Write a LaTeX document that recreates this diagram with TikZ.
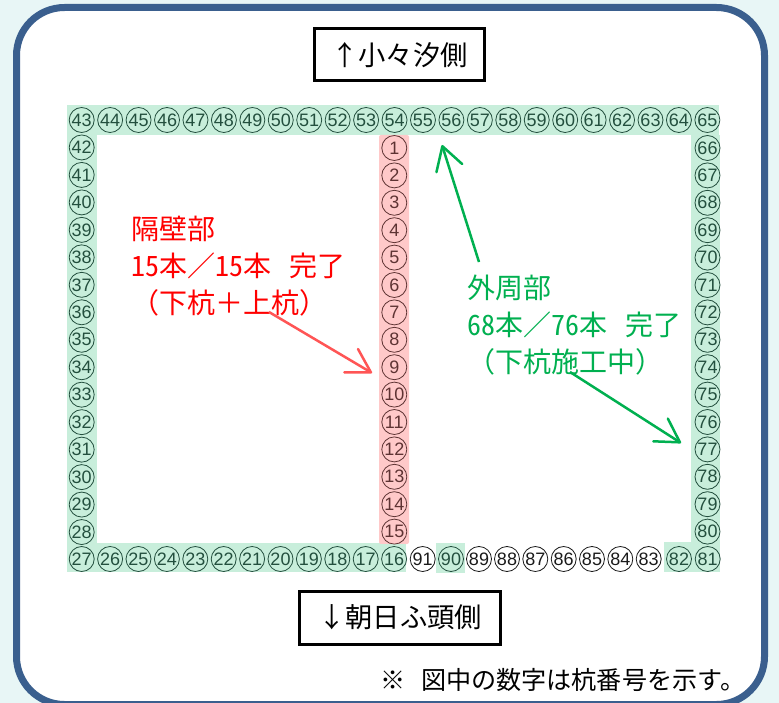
\documentclass[tikz,border=0pt]{standalone}
\usepackage{fontspec}
\usetikzlibrary{arrows.meta}
\setmainfont{Liberation Sans}
\newfontfamily\cjk{Noto Sans CJK JP}
\newfontfamily\cjkhalf[RawFeature=+hwid]{Noto Sans CJK JP}
\newcommand{\hw}[1]{{\cjkhalf #1}}
\definecolor{pagebg}{HTML}{E8F6F6}
\definecolor{framecol}{HTML}{3A5F8E}
\definecolor{bandgreen}{HTML}{C8EEDB}
\definecolor{bandpink}{HTML}{FFC9C9}
\definecolor{inkgreen}{HTML}{234F3E}
\definecolor{inkpink}{HTML}{5E3333}
\definecolor{inkwhite}{HTML}{1A1A1A}
\definecolor{labelgreen}{HTML}{00B050}
\definecolor{labelred}{HTML}{FF0000}
\definecolor{arrowred}{HTML}{FF5555}
\tikzset{
  x=1pt,y=-1pt,
  pile/.style={circle,draw=inkgreen,text=inkgreen,line width=0.8pt,minimum size=25pt,inner sep=0pt,font=\fontsize{18}{18}\selectfont},
  pilepink/.style={pile,draw=inkpink,text=inkpink},
  pileplain/.style={pile,draw=inkwhite,text=inkwhite},
  titlebox/.style={draw=black,line width=3pt,fill=white,inner sep=0pt,font=\cjk\fontsize{27.3}{30}\selectfont},
  biglabel/.style={anchor=north west,inner sep=0pt,align=left,font=\cjk\fontsize{28}{37.2}\selectfont},
  notelabel/.style={anchor=west,inner sep=0pt,font=\cjk\fontsize{25.1}{28}\selectfont},
  callout/.style={line width=2.5pt,-{Straight Barb[length=23pt,width=27pt,line width=2.5pt,round]}},
}
\begin{document}
\begin{tikzpicture}
\useasboundingbox (0,0) rectangle (779,703);
\fill[pagebg] (0,0) rectangle (779,703);
\begin{scope}
\clip (0,0) rectangle (779,703);
\draw[framecol,fill=white,line width=7pt,rounded corners=48pt] (16.5,7.5) rectangle (764.5,704.5);
\end{scope}
% bands
\fill[bandgreen] (67,105) rectangle (719,135);
\fill[bandgreen] (67,135) rectangle (97,543);
\fill[bandgreen] (67,542.5) rectangle (406,572);
\fill[bandgreen] (436,543) rectangle (465,572.5);
\fill[bandgreen] (664,542) rectangle (720,572);
\fill[bandgreen] (691,135) rectangle (720,542);
\fill[bandpink,rounded corners=2pt] (379,135) rectangle (409,544);
\fill[bandgreen] (379,544) rectangle (406,572);
% piles
\foreach \n in {43,...,65}
  \node[pile] (p\n) at ({81.7+28.44*(\n-43)},120) {\n};
\foreach \n in {28,...,42}
  \node[pile] (p\n) at (81.7,{120+27.47*(43-\n)}) {\n};
\foreach \n in {16,...,27}
  \node[pile] (p\n) at ({81.7+28.4*(27-\n)},559) {\n};
\foreach \n in {1,...,15}
  \node[pilepink] (p\n) at (394.3,{148+27.4*(\n-1)}) {\n};
\foreach \n in {66,...,80}
  \node[pile] (p\n) at (707.5,{148+27.4*(\n-66)}) {\n};
\node[pileplain] (p91) at (422.7,559) {91};
\node[pile] (p90) at (451,559) {90};
\foreach \n/\x in {89/479,88/507,87/535.3,86/563.7,85/592,84/620.3,83/648.7}
  \node[pileplain] (p\n) at (\x,559) {\n};
\node[pile] (p82) at (679,559) {82};
\node[pile] (p81) at (707.7,559) {81};
% title boxes
\node[titlebox,minimum width=170pt,minimum height=52pt] (north) at (399.5,55) {↑小々汐側};
\node[titlebox,minimum width=201pt,minimum height=53pt] (south) at (400,617.5) {↓朝日ふ頭側};
% labels
\node[biglabel,text=labelred] (wall) at (131,215.5) {隔壁部\\\hw{15}本／\hw{15}本\hspace{18pt}完了\\（下杭＋上杭）};
\node[biglabel,text=labelgreen] (outer) at (467.5,274.5) {外周部\\\hw{68}本／\hw{76}本\hspace{18pt}完了\\（下杭施工中）};
\node[notelabel] (note) at (380,680) {※\hspace{16pt}図中の数字は杭番号を示す。};
% connectors
\coordinate (redstart) at (269,312);
\coordinate (redend) at (372,373);
\coordinate (gstartA) at (479,262);
\coordinate (gendA) at (442,145);
\coordinate (gstartB) at (570,372);
\coordinate (gendB) at (681,443);
\draw[callout,arrowred] (redstart) -- (redend);
\draw[callout,labelgreen] (gstartA) -- (gendA);
\draw[callout,labelgreen] (gstartB) -- (gendB);
\end{tikzpicture}
\end{document}
